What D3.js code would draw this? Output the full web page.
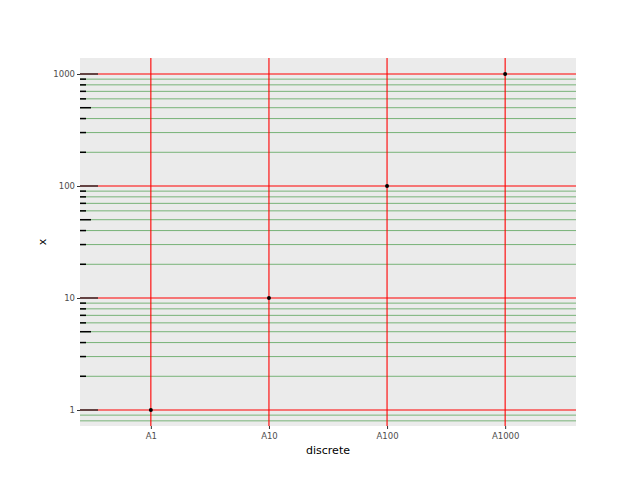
<!DOCTYPE html>
<html><head><meta charset="utf-8">
<script src="https://cdn.jsdelivr.net/npm/d3@7"></script>
<style>body{margin:0;background:#fff}text{font-family:"DejaVu Sans",sans-serif}</style>
</head><body><svg width="640" height="480"></svg>
<script>
const categories = ["A1", "A10", "A100", "A1000"];
const values = [1, 10, 100, 1000];
const yTicks = [1, 10, 100, 1000];
const yDomain = [0.7197, 1389.5];

const svg = d3.select("svg");
const L = 80, R = 576, T = 58, B = 426;
const x = d3.scalePoint().domain(categories).range([L, R]).padding(0.6);
const y = d3.scaleLog().domain(yDomain).range([B, T]);

svg.append("rect").attr("x", L).attr("y", T).attr("width", R - L).attr("height", B - T).attr("fill", "#ebebeb");

// minor grid
const minor = [];
[0.1, 1, 10, 100].forEach(d => { for (let k = 2; k <= 9; k++) minor.push(d * k); });
const minorIn = minor.filter(v => v > yDomain[0] && v < yDomain[1]);
svg.selectAll(".minor").data(minorIn).join("line")
  .attr("x1", L).attr("x2", R).attr("y1", d => y(d)).attr("y2", d => y(d))
  .attr("stroke", "#78b378").attr("stroke-width", 1);

// major grid
svg.selectAll(".major").data(yTicks).join("line")
  .attr("x1", L).attr("x2", R).attr("y1", d => y(d)).attr("y2", d => y(d))
  .attr("stroke", "red").attr("stroke-width", 1.1);
svg.selectAll(".vmajor").data(categories).join("line")
  .attr("x1", d => x(d)).attr("x2", d => x(d)).attr("y1", T).attr("y2", B)
  .attr("stroke", "red").attr("stroke-width", 1.1);

// log ticks
const lt = minorIn.filter(v => v >= 1).concat(yTicks);
svg.selectAll(".lt").data(lt).join("line")
  .attr("x1", L)
  .attr("x2", d => { const m = d / Math.pow(10, Math.floor(Math.log10(d) + 1e-9)); return L + (Math.abs(m - 1) < 1e-6 ? 18 : Math.abs(m - 5) < 1e-6 ? 11 : 6); })
  .attr("y1", d => y(d)).attr("y2", d => y(d))
  .attr("stroke", d => yTicks.includes(d) ? "#333" : "#000").attr("stroke-width", 1.5);

// axes
const ya = svg.append("g").attr("transform", `translate(${L},0)`)
  .call(d3.axisLeft(y).tickValues(yTicks).tickFormat(d3.format("d")).tickSize(3).tickPadding(2));
const xa = svg.append("g").attr("transform", `translate(0,${B})`)
  .call(d3.axisBottom(x).tickSize(3).tickPadding(4));
[ya, xa].forEach(a => {
  a.select(".domain").remove();
  a.selectAll("text").attr("fill", "#4d4d4d").style("font-size", "8.5px");
  a.selectAll("line").attr("stroke", "#333");
});

svg.selectAll(".pt").data(values).join("circle")
  .attr("cx", (d, i) => x(categories[i])).attr("cy", d => y(d)).attr("r", 2).attr("fill", "#000");

svg.append("text").attr("x", (L + R) / 2).attr("y", 454).attr("text-anchor", "middle").style("font-size", "11px").text("discrete");
svg.append("text").attr("transform", `translate(46,${(T + B) / 2}) rotate(-90)`).attr("text-anchor", "middle").style("font-size", "11px").text("x");
</script></body></html>
